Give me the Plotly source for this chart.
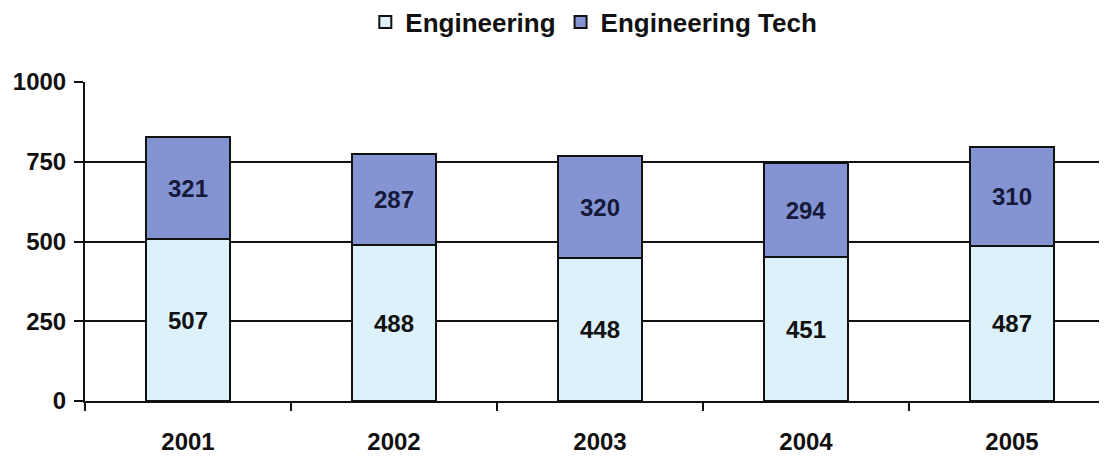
import plotly.graph_objects as go

years = ["2001", "2002", "2003", "2004", "2005"]
engineering = [507, 488, 448, 451, 487]
engineering_tech = [321, 287, 320, 294, 310]
y_ticks = [0, 250, 500, 750, 1000]

FONT = "Liberation Sans, Arial"

fig = go.Figure()
fig.add_trace(go.Bar(
    x=years, y=engineering, name="Engineering",
    marker=dict(color="#DDF1FB", line=dict(color="#111111", width=2)),
    text=[str(v) for v in engineering], textposition="inside",
    insidetextanchor="middle",
    textfont=dict(family=FONT, size=24, color="#111111", weight="bold"),
    width=0.41,
))
fig.add_trace(go.Bar(
    x=years, y=engineering_tech, name="Engineering Tech",
    marker=dict(color="#8494D2", line=dict(color="#111111", width=2)),
    text=[str(v) for v in engineering_tech], textposition="inside",
    insidetextanchor="middle",
    textfont=dict(family=FONT, size=24, color="#15193A", weight="bold"),
    width=0.41,
))

fig.update_layout(
    barmode="stack",
    width=1107, height=462,
    margin=dict(l=77, r=0, t=74, b=69, autoexpand=False),
    paper_bgcolor="white", plot_bgcolor="white",
    font=dict(family=FONT, size=24, color="#111111", weight="bold"),
    showlegend=True,
    legend=dict(orientation="h", x=0.494, xanchor="center", y=1.188, yanchor="middle",
                font=dict(size=26, weight="bold"), itemwidth=30, traceorder="normal"),
    xaxis=dict(range=[-0.5, 4.5], showline=True, linecolor="#111111", linewidth=2,
               ticks="outside", tickson="boundaries", ticklen=8, tickwidth=2,
               tickcolor="#111111", showgrid=False, automargin=False,
               ticklabelstandoff=18),
    yaxis=dict(range=[0, 1000], tickvals=y_ticks, showline=True, linecolor="#111111",
               linewidth=2, ticks="outside", ticklen=9, tickwidth=2, tickcolor="#111111",
               showgrid=True, gridcolor="#111111", gridwidth=2, zeroline=False,
               automargin=False, ticklabelstandoff=3),
    bargap=0.59,
)

fig.write_html("out.html")
